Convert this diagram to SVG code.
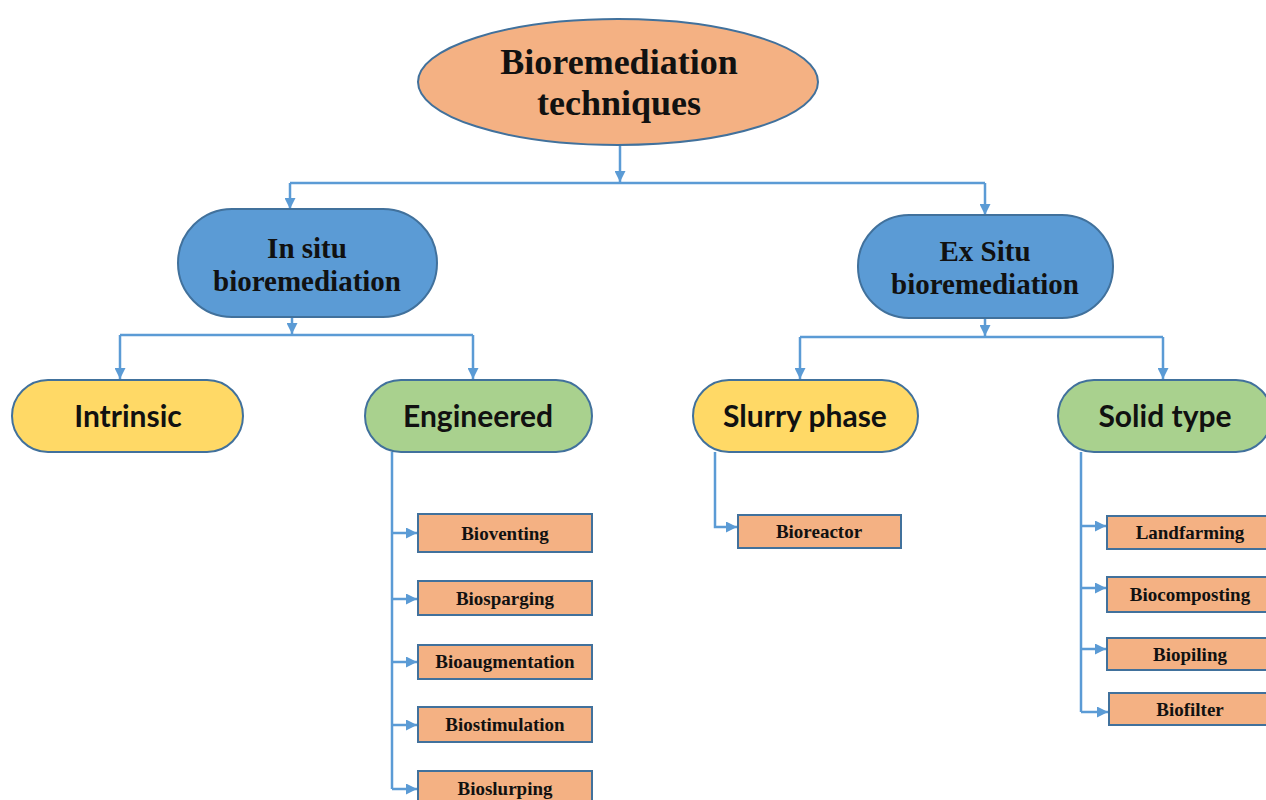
<svg xmlns="http://www.w3.org/2000/svg" width="1266" height="800" viewBox="0 0 1266 800">
<style>
.conn{fill:none;stroke:#5B9BD5;stroke-width:2.5}
.serif{font-family:"Liberation Serif","Times New Roman",serif;font-weight:bold;fill:#111;text-anchor:middle}
.sans{font-family:Lato,"Open Sans","Liberation Sans",sans-serif;font-weight:bold;fill:#111;text-anchor:middle;font-size:30px}
.peach{fill:#F4B183;stroke:#41719C;stroke-width:2}
.blue{fill:#5B9BD5;stroke:#41719C;stroke-width:2}
.yellow{fill:#FFD966;stroke:#41719C;stroke-width:2}
.green{fill:#A9D18E;stroke:#41719C;stroke-width:2}
.box text{font-size:19px}
</style>
<defs>
<marker id="ah" viewBox="0 0 10 10" refX="10" refY="5" markerWidth="4.4" markerHeight="4.4" orient="auto" markerUnits="strokeWidth">
<path d="M0,0 L10,5 L0,10 Z" fill="#5B9BD5"/>
</marker>
</defs>
<rect width="1266" height="800" fill="#fff"/>
<g id="connectors">
<path class="conn" d="M620,146 L620,182" marker-end="url(#ah)"/>
<path class="conn" d="M290,183 L985,183"/>
<path class="conn" d="M290,183 L290,209" marker-end="url(#ah)"/>
<path class="conn" d="M985,183 L985,215" marker-end="url(#ah)"/>
<path class="conn" d="M292,317 L292,334" marker-end="url(#ah)"/>
<path class="conn" d="M120,335 L473,335"/>
<path class="conn" d="M120,335 L120,379" marker-end="url(#ah)"/>
<path class="conn" d="M473,335 L473,379" marker-end="url(#ah)"/>
<path class="conn" d="M985,318 L985,336" marker-end="url(#ah)"/>
<path class="conn" d="M800,337 L1163,337"/>
<path class="conn" d="M800,337 L800,379" marker-end="url(#ah)"/>
<path class="conn" d="M1163,337 L1163,379" marker-end="url(#ah)"/>
<path class="conn" d="M392,452 L392,789"/>
<path class="conn" d="M392,533 L417,533" marker-end="url(#ah)"/>
<path class="conn" d="M392,599 L417,599" marker-end="url(#ah)"/>
<path class="conn" d="M392,662 L417,662" marker-end="url(#ah)"/>
<path class="conn" d="M392,725 L417,725" marker-end="url(#ah)"/>
<path class="conn" d="M392,789 L417,789" marker-end="url(#ah)"/>
<path class="conn" d="M715,452 L715,527 L737,527" marker-end="url(#ah)"/>
<path class="conn" d="M1081,452 L1081,712"/>
<path class="conn" d="M1081,526 L1106,526" marker-end="url(#ah)"/>
<path class="conn" d="M1081,588 L1106,588" marker-end="url(#ah)"/>
<path class="conn" d="M1081,649 L1106,649" marker-end="url(#ah)"/>
<path class="conn" d="M1081,712 L1108,712" marker-end="url(#ah)"/>
</g>
<g id="root">
<ellipse class="peach" cx="618" cy="82" rx="200" ry="63"/>
<text class="serif" x="619" y="74" font-size="36">Bioremediation</text>
<text class="serif" x="619" y="115" font-size="36">techniques</text>
</g>
<g id="insitu">
<rect class="blue" x="178" y="209" width="259" height="108" rx="54"/>
<text class="serif" x="307" y="258" font-size="29">In situ</text>
<text class="serif" x="307" y="291" font-size="29">bioremediation</text>
</g>
<g id="exsitu">
<rect class="blue" x="858" y="215" width="255" height="103" rx="51"/>
<text class="serif" x="985" y="261" font-size="29">Ex Situ</text>
<text class="serif" x="985" y="294" font-size="29">bioremediation</text>
</g>
<g id="intrinsic">
<rect class="yellow" x="12" y="380" width="231" height="72" rx="36"/>
<text class="sans" x="128" y="427">Intrinsic</text>
</g>
<g id="engineered">
<rect class="green" x="365" y="380" width="227" height="72" rx="36"/>
<text class="sans" x="478" y="427">Engineered</text>
</g>
<g id="slurry">
<rect class="yellow" x="693" y="380" width="225" height="72" rx="36"/>
<text class="sans" x="805" y="427">Slurry phase</text>
</g>
<g id="solid">
<rect class="green" x="1058" y="380" width="214" height="72" rx="36"/>
<text class="sans" x="1165" y="427">Solid type</text>
</g>
<g id="bioventing" class="box">
<rect class="peach" x="418" y="514" width="174" height="38"/>
<text class="serif" x="505" y="540">Bioventing</text>
</g>
<g id="biosparging" class="box">
<rect class="peach" x="418" y="581" width="174" height="34"/>
<text class="serif" x="505" y="605">Biosparging</text>
</g>
<g id="bioaugmentation" class="box">
<rect class="peach" x="418" y="645" width="174" height="34"/>
<text class="serif" x="505" y="668">Bioaugmentation</text>
</g>
<g id="biostimulation" class="box">
<rect class="peach" x="418" y="707" width="174" height="35"/>
<text class="serif" x="505" y="731">Biostimulation</text>
</g>
<g id="bioslurping" class="box">
<rect class="peach" x="418" y="771" width="174" height="36"/>
<text class="serif" x="505" y="795">Bioslurping</text>
</g>
<g id="bioreactor" class="box">
<rect class="peach" x="738" y="515" width="163" height="33"/>
<text class="serif" x="819" y="538">Bioreactor</text>
</g>
<g id="landfarming" class="box">
<rect class="peach" x="1107" y="516" width="165" height="33"/>
<text class="serif" x="1190" y="539">Landfarming</text>
</g>
<g id="biocomposting" class="box">
<rect class="peach" x="1107" y="577" width="165" height="35"/>
<text class="serif" x="1190" y="601">Biocomposting</text>
</g>
<g id="biopiling" class="box">
<rect class="peach" x="1107" y="638" width="165" height="32"/>
<text class="serif" x="1190" y="661">Biopiling</text>
</g>
<g id="biofilter" class="box">
<rect class="peach" x="1109" y="693" width="163" height="32"/>
<text class="serif" x="1190" y="716">Biofilter</text>
</g>
</svg>
